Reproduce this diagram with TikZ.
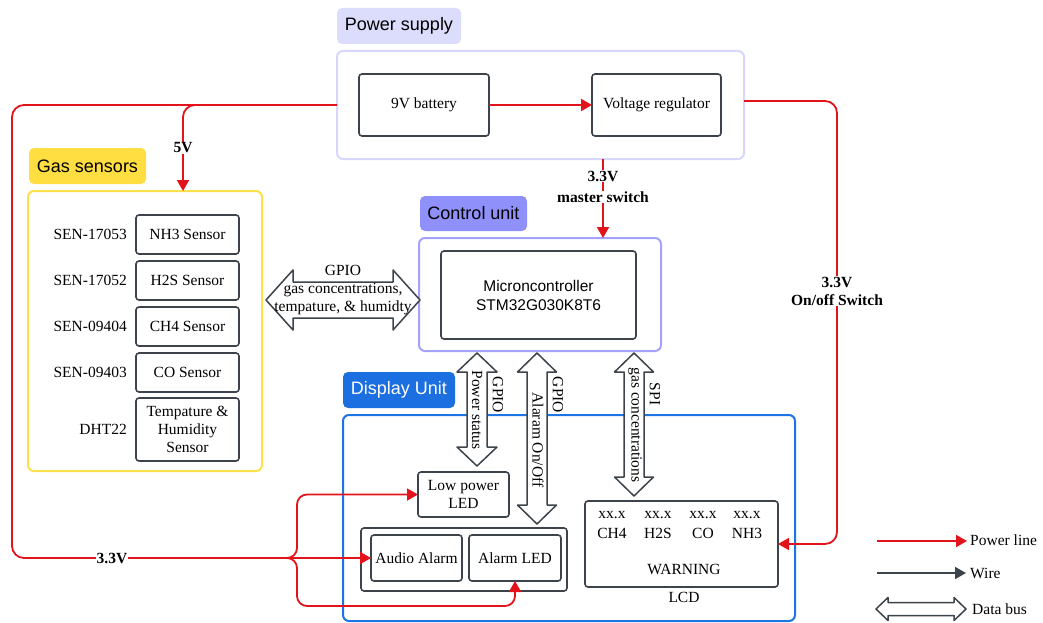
\documentclass[tikz,border=0pt]{standalone}
\usepackage{fontspec}
\setmainfont{Liberation Serif}
\setsansfont{Liberation Sans}
\usetikzlibrary{arrows.meta}
\definecolor{pred}{HTML}{E3131B}
\definecolor{boxgray}{HTML}{3C434A}
\definecolor{psufill}{HTML}{DCDCFC}
\definecolor{psuline}{HTML}{D6D6FF}
\definecolor{gasfill}{HTML}{FFDE42}
\definecolor{gasline}{HTML}{FFDF4A}
\definecolor{ctrlfill}{HTML}{9090FA}
\definecolor{ctrlline}{HTML}{A3A3FF}
\definecolor{dispfill}{HTML}{1B6FE0}
\definecolor{displine}{HTML}{1D74E5}
\newcommand\fsz[2]{\fontsize{#1}{#2}\selectfont}
\newcommand\hbus[6]{%
 \draw[bus] (#1,#3) -- ({#1+#6},{#3-#4}) -- ({#1+#6},{#3-#5}) -- ({#2-#6},{#3-#5}) -- ({#2-#6},{#3-#4}) -- (#2,#3) -- ({#2-#6},{#3+#4}) -- ({#2-#6},{#3+#5}) -- ({#1+#6},{#3+#5}) -- ({#1+#6},{#3+#4}) -- cycle;}
\newcommand\vbus[6]{%
 \draw[bus] (#3,#1) -- ({#3-#4},{#1+#6}) -- ({#3-#5},{#1+#6}) -- ({#3-#5},{#2-#6}) -- ({#3-#4},{#2-#6}) -- (#3,#2) -- ({#3+#4},{#2-#6}) -- ({#3+#5},{#2-#6}) -- ({#3+#5},{#1+#6}) -- ({#3+#4},{#1+#6}) -- cycle;}
\tikzset{
  box/.style={draw=boxgray, line width=1.6pt, rounded corners=3pt, inner sep=0pt, outer sep=0pt, align=center, font=\fsz{15.5}{18}},
  cont/.style={line width=2pt, rounded corners=6pt, inner sep=0pt, outer sep=0pt},
  tag/.style={rounded corners=5pt, inner sep=0pt, outer sep=0pt, font=\sffamily\fsz{18}{21}},
  pl/.style={draw=pred, line width=1.8pt, -{Triangle[length=11pt,width=12pt]}},
  wire/.style={draw=boxgray, line width=1.8pt, -{Triangle[length=11pt,width=12pt]}},
  bus/.style={draw=boxgray, line width=1.5pt, fill=white, line join=round},
  lbl/.style={fill=white, inner sep=1pt, font=\bfseries\fsz{15.5}{18}, align=center},
  txt/.style={inner sep=0pt, font=\fsz{15.5}{18}, align=center}
}
\begin{document}
\begin{tikzpicture}[x=1pt,y=-1pt]
\useasboundingbox (0,0) rectangle (1043,623);
% Power supply
\node[tag, fill=psufill, minimum width=124pt, minimum height=36pt] (psulab) at (399,26) {Power supply};
\node[cont, draw=psuline, minimum width=407pt, minimum height=108pt] (psu) at (540.5,105) {};
\node[box, minimum width=130pt, minimum height=62pt] (bat) at (424,105) {9V battery};
\node[box, minimum width=129pt, minimum height=62pt] (reg) at (656.5,105) {Voltage regulator};
% Gas sensors
\node[tag, fill=gasfill, minimum width=117pt, minimum height=36pt] (gaslab) at (87.5,166) {Gas sensors};
\node[cont, draw=gasline, minimum width=234pt, minimum height=280pt] (gas) at (145,331) {};
\node[box, minimum width=103pt, minimum height=39pt] (nh3) at (187.5,234.5) {NH3 Sensor};
\node[box, minimum width=103pt, minimum height=39pt] (h2s) at (187.5,280.5) {H2S Sensor};
\node[box, minimum width=103pt, minimum height=39pt] (ch4) at (187.5,326.5) {CH4 Sensor};
\node[box, minimum width=103pt, minimum height=39pt] (co) at (187.5,372.5) {CO Sensor};
\node[box, minimum width=103pt, minimum height=63pt] (th) at (187.5,429.5) {Tempature \&\\Humidity\\Sensor};
\node[txt, anchor=east] (l1) at (127,234) {SEN-17053};
\node[txt, anchor=east] (l2) at (127,280) {SEN-17052};
\node[txt, anchor=east] (l3) at (127,326) {SEN-09404};
\node[txt, anchor=east] (l4) at (127,372) {SEN-09403};
\node[txt, anchor=east] (l5) at (127,429) {DHT22};
% Control unit
\node[tag, fill=ctrlfill, minimum width=107pt, minimum height=35pt] (ctrllab) at (473.5,213.5) {Control unit};
\node[cont, draw=ctrlline, minimum width=242pt, minimum height=113pt] (ctrl) at (540,294.5) {};
\node[box, minimum width=195pt, minimum height=88pt, font=\sffamily\fsz{15.5}{19}] (mcu) at (538.5,295) {Microncontroller\\STM32G030K8T6};
% Display unit
\node[tag, fill=dispfill, text=white, minimum width=112pt, minimum height=36pt] (displab) at (399,390) {Display Unit};
\node[cont, draw=displine, minimum width=452pt, minimum height=206pt] (disp) at (569,518) {};
\node[box, minimum width=91pt, minimum height=45pt] (lpled) at (463.5,494.5) {Low power\\LED};
\node[box, minimum width=206pt, minimum height=63pt] (agrp) at (464,559.5) {};
\node[box, minimum width=91pt, minimum height=46pt] (audio) at (416.5,558) {Audio Alarm};
\node[box, minimum width=92pt, minimum height=46pt] (aled) at (515,558) {Alarm LED};
\node[box, minimum width=193pt, minimum height=86pt] (lcd) at (681.5,544) {};
\node[txt] (x1) at (612,515) {xx.x};
\node[txt] (x2) at (658,515) {xx.x};
\node[txt] (x3) at (703,515) {xx.x};
\node[txt] (x4) at (747,515) {xx.x};
\node[txt] (g1) at (612,533) {CH4};
\node[txt] (g2) at (658,533) {H2S};
\node[txt] (g3) at (703,533) {CO};
\node[txt] (g4) at (747,533) {NH3};
\node[txt] (warn) at (684,569) {WARNING};
\node[txt] (lcdl) at (684,597) {LCD};
% Power lines
\draw[pl] (bat.east) -- (reg.west);
\draw[pl, rounded corners=12pt] (psu.west) -- (12,105) -- (12,558) -- (audio.west);
\draw[pl, rounded corners=12pt] (197,105) -| ([xshift=38pt]gas.north);
\node[lbl] (v5) at (183,148) {5V};
\draw[pl] ([xshift=62.5pt]psu.south) -- ([xshift=63pt]ctrl.north);
\node[lbl] (ms1) at (603,176) {3.3V};
\node[lbl] (ms2) at (603,197) {master switch};
\draw[pl, rounded corners=12pt] ([yshift=4pt]psu.east) -- (837,101) -- (837,544) -- (lcd.east);
\node[lbl] (onoff) at (837,291) {3.3V\\On/off Switch};
\node[lbl] (v33) at (112,558) {3.3V};
\draw[pl, rounded corners=10pt] (284,558) -- (297,558) -- (297,494.5) -- (lpled.west);
\draw[pl, rounded corners=10pt] (284,558) -- (297,558) -- (297,606) -- (515,606) -- (aled.south);
% Data buses
\hbus{266}{420}{300}{30}{18}{27}
\node[txt] (gpio1) at (343,290) {GPIO\\gas concentrations,\\tempature, \& humidty};
\vbus{353}{466}{477}{20}{10}{19}
\vbus{353}{524}{537}{19.5}{10}{19}
\vbus{353}{496}{634}{19.5}{10}{19}
\node[txt, rotate=-90] (ps) at (477,410) {Power status};
\node[txt, rotate=-90] (gp2) at (498,395) {GPIO};
\node[txt, rotate=-90] (ao) at (538,440) {Alaram On/Off};
\node[txt, rotate=-90] (gp3) at (558,395) {GPIO};
\node[txt, rotate=-90] (gc) at (635,425) {gas concentrations};
\node[txt, rotate=-90] (spi) at (655,394) {SPI};
% Legend
\coordinate (lg1a) at (877,541); \coordinate (lg1b) at (967,541);
\coordinate (lg2a) at (877,573); \coordinate (lg2b) at (966,573);
\draw[pl] (lg1a) -- (lg1b);
\draw[wire] (lg2a) -- (lg2b);
\hbus{876}{966}{609}{11.5}{6.5}{12}
\node[txt, anchor=west] (lgt1) at (970,540) {Power line};
\node[txt, anchor=west] (lgt2) at (970,573) {Wire};
\node[txt, anchor=west] (lgt3) at (972,609) {Data bus};
\end{tikzpicture}
\end{document}
